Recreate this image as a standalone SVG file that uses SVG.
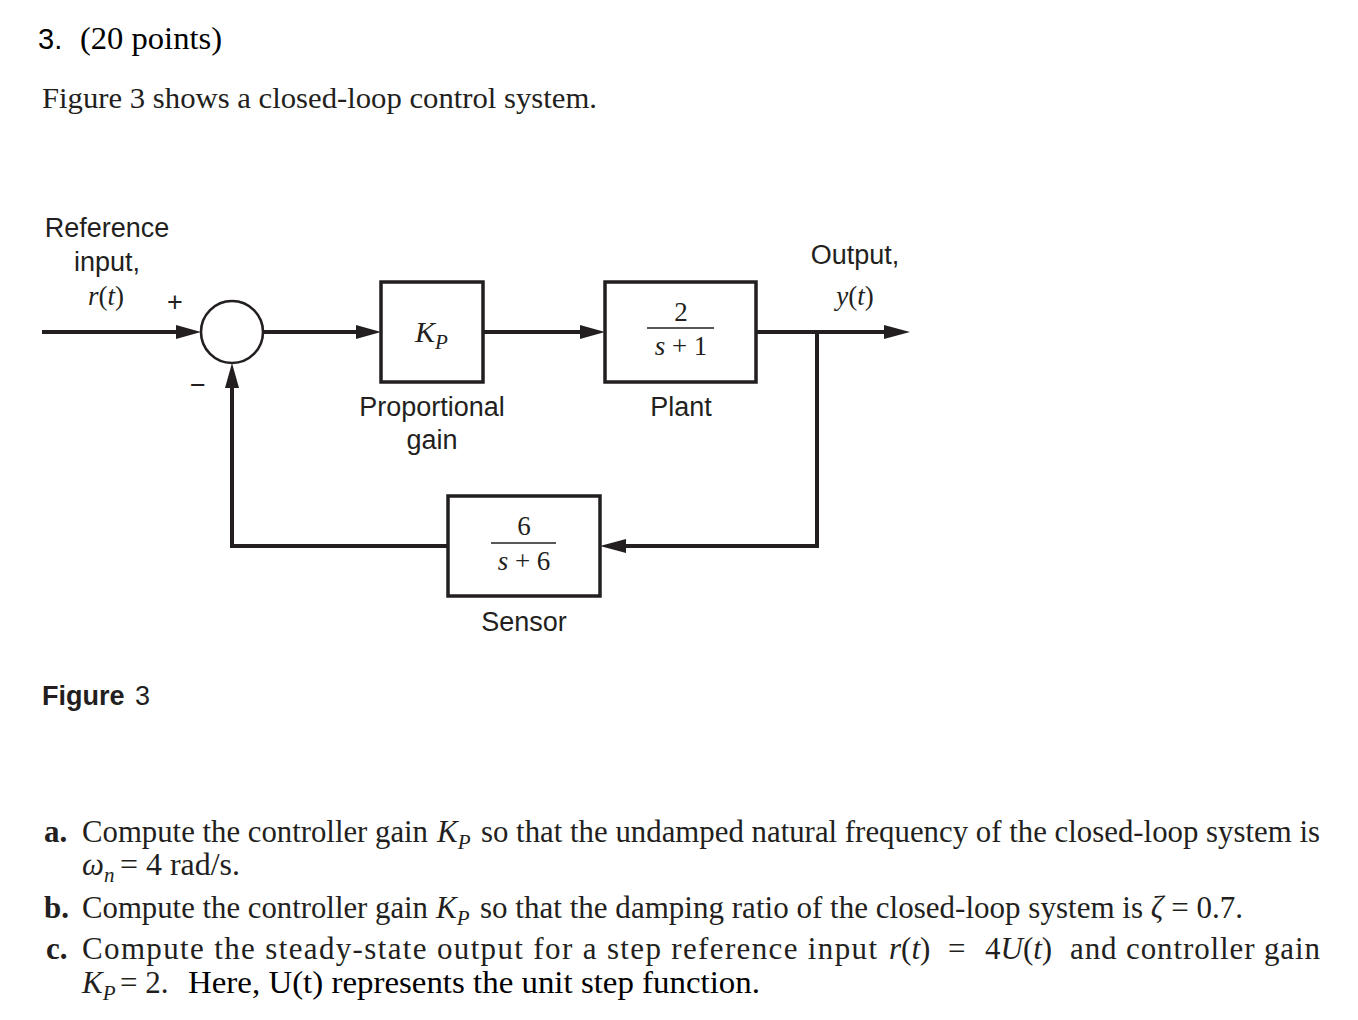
<svg xmlns="http://www.w3.org/2000/svg" width="1358" height="1020" viewBox="0 0 1358 1020">
<style>
.ln{fill:none;stroke:#231f20;stroke-width:4}
.ah{fill:#231f20}
.box{fill:#fff;stroke:#231f20;stroke-width:3.5}
.lbl{font-family:"Liberation Sans",Arial,sans-serif;font-size:27px;fill:#231f20}
.m{font-family:"Liberation Serif","Times New Roman",serif;fill:#231f20}
.it{font-style:italic}
.q{font-family:"Liberation Serif","Times New Roman",serif;font-size:31px;fill:#231f20}
.b{font-weight:bold}
</style>
<rect width="1358" height="1020" fill="#fff"/>

<g id="title">
<text x="38" y="49" font-family="Liberation Sans,Arial,sans-serif" font-size="29" fill="#000">3.</text>
<text x="80" y="49" font-family="Liberation Serif,Times New Roman,serif" font-size="32" fill="#000" textLength="142" lengthAdjust="spacingAndGlyphs">(20 points)</text>
<text x="42" y="108" class="m" font-size="30" textLength="555" lengthAdjust="spacingAndGlyphs">Figure 3 shows a closed-loop control system.</text>
</g>

<g id="connectors">
<path class="ln" d="M42,332 H182"/>
<polygon class="ah" points="201,332 176,325 176,339"/>
<path class="ln" d="M263,332 H362"/>
<polygon class="ah" points="381,332 356,325 356,339"/>
<path class="ln" d="M483,332 H586"/>
<polygon class="ah" points="605,332 580,325 580,339"/>
<path class="ln" d="M756,332 H890"/>
<polygon class="ah" points="910,332 884,325 884,339"/>
<path class="ln" d="M817,330 V546 H620" stroke-linejoin="miter"/>
<polygon class="ah" points="600,546 626,539 626,553"/>
<path class="ln" d="M448,546 H232 V382"/>
<polygon class="ah" points="232,363 225,388 239,388"/>
</g>

<g id="sum">
<circle cx="232" cy="332" r="31" fill="#fff" stroke="#231f20" stroke-width="2.6"/>
<text x="175" y="311" class="lbl" font-size="26" text-anchor="middle">+</text>
<text x="198" y="394" class="lbl" font-size="26" text-anchor="middle">−</text>
</g>

<g id="ref-label">
<text x="107" y="237" class="lbl" text-anchor="middle">Reference</text>
<text x="107" y="271" class="lbl" text-anchor="middle">input,</text>
<text x="106" y="305" class="m" font-size="27" text-anchor="middle"><tspan class="it">r</tspan>(<tspan class="it">t</tspan>)</text>
</g>

<g id="kp">
<rect class="box" x="381" y="282" width="102" height="100"/>
<text x="415" y="342" class="m it" font-size="30">K<tspan font-size="21" dy="7">P</tspan></text>
<text x="432" y="416" class="lbl" text-anchor="middle">Proportional</text>
<text x="432" y="449" class="lbl" text-anchor="middle">gain</text>
</g>

<g id="plant">
<rect class="box" x="605" y="282" width="151" height="100"/>
<text x="681" y="321" class="m" font-size="27" text-anchor="middle">2</text>
<line x1="647" y1="328" x2="714" y2="328" stroke="#231f20" stroke-width="1.6"/>
<text x="681" y="355" class="m" font-size="27" text-anchor="middle"><tspan class="it">s</tspan> + 1</text>
<text x="681" y="416" class="lbl" text-anchor="middle">Plant</text>
</g>

<g id="output-label">
<text x="855" y="264" class="lbl" text-anchor="middle">Output,</text>
<text x="855" y="305" class="m" font-size="27" text-anchor="middle"><tspan class="it">y</tspan>(<tspan class="it">t</tspan>)</text>
</g>

<g id="sensor">
<rect class="box" x="448" y="496" width="152" height="100"/>
<text x="524" y="535" class="m" font-size="27" text-anchor="middle">6</text>
<line x1="491" y1="543" x2="556" y2="543" stroke="#231f20" stroke-width="1.6"/>
<text x="524" y="570" class="m" font-size="27" text-anchor="middle"><tspan class="it">s</tspan> + 6</text>
<text x="524" y="631" class="lbl" text-anchor="middle">Sensor</text>
</g>

<g id="caption">
<text x="42" y="705" font-family="Liberation Sans,Arial,sans-serif" font-size="27" fill="#231f20"><tspan font-weight="bold">Figure</tspan> <tspan dx="3">3</tspan></text>
</g>

<g id="questions">
<text x="44" y="842" class="q b">a.</text>
<text x="82" y="842" class="q" textLength="346" lengthAdjust="spacingAndGlyphs">Compute the controller gain</text>
<text x="437" y="842" class="q it">K<tspan font-size="21" dy="7">P</tspan></text>
<text x="481" y="842" class="q" textLength="839" lengthAdjust="spacingAndGlyphs">so that the undamped natural frequency of the closed-loop system is</text>

<text x="82" y="875" class="q it">ω<tspan font-size="21" dy="7">n</tspan></text>
<text x="120" y="875" class="q" textLength="120" lengthAdjust="spacingAndGlyphs">= 4 rad/s.</text>

<text x="44" y="918" class="q b">b.</text>
<text x="82" y="918" class="q" textLength="346" lengthAdjust="spacingAndGlyphs">Compute the controller gain</text>
<text x="436" y="918" class="q it">K<tspan font-size="21" dy="7">P</tspan></text>
<text x="480" y="918" class="q" textLength="763" lengthAdjust="spacingAndGlyphs">so that the damping ratio of the closed-loop system is <tspan class="it">ζ</tspan> = 0.7.</text>

<text x="46" y="959" class="q b">c.</text>
<text x="82" y="959" class="q" textLength="795" lengthAdjust="spacing">Compute the steady-state output for a step reference input</text>
<text x="889" y="959" class="q"><tspan class="it">r</tspan>(<tspan class="it">t</tspan>)</text>
<text x="948" y="959" class="q">=</text>
<text x="985" y="959" class="q">4<tspan class="it">U</tspan>(<tspan class="it">t</tspan>)</text>
<text x="1070" y="959" class="q" textLength="250" lengthAdjust="spacing">and controller gain</text>

<text x="82" y="993" class="q it">K<tspan font-size="21" dy="7">P</tspan></text>
<text x="120" y="993" class="q">= 2.</text>
<text x="188" y="993" font-family="Liberation Serif,Times New Roman,serif" font-size="32" fill="#000" textLength="572" lengthAdjust="spacingAndGlyphs">Here, U(t) represents the unit step function.</text>
</g>
</svg>
